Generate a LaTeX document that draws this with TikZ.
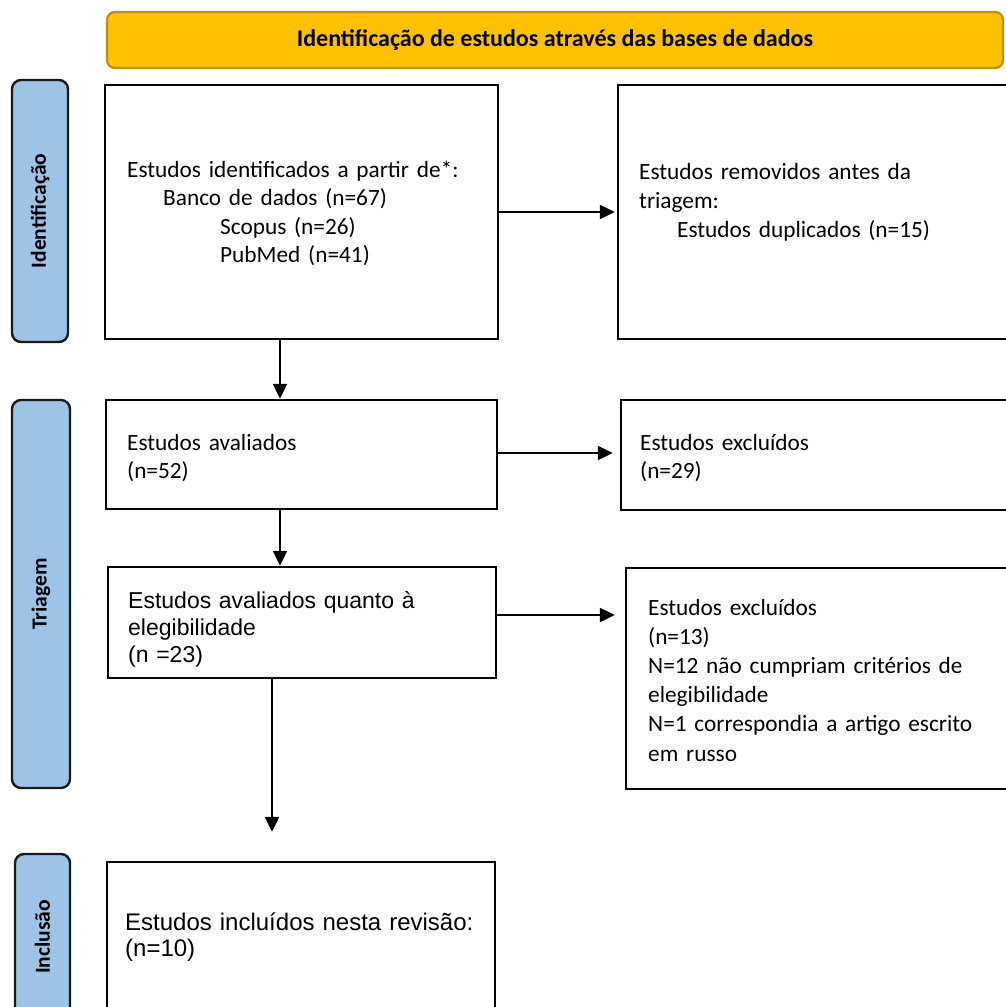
\documentclass[tikz,border=0pt]{standalone}
\usepackage{fontspec}
\setmainfont{Carlito}
\newfontfamily\arialfont{Liberation Sans}
\usetikzlibrary{arrows.meta,calc}
\definecolor{hdrfill}{HTML}{FFC000}
\definecolor{hdrline}{HTML}{BF9000}
\definecolor{sidefill}{HTML}{9DC3E6}
\definecolor{sideline}{HTML}{1A1A1A}
\tikzset{
 box/.style={draw=black, line width=2.4pt, rectangle, inner sep=0pt},
 sidebox/.style={draw=sideline, fill=sidefill, line width=2.4pt, rounded corners=9pt, rotate=90, inner sep=0pt, font=\fontsize{21.5}{25}\selectfont\bfseries},
 hdr/.style={draw=hdrline, fill=hdrfill, line width=2.2pt, rounded corners=8pt, inner sep=0pt, font=\fontsize{24}{28}\selectfont\bfseries},
 cal/.style={anchor=base west, inner sep=0pt, text width=400pt, align=left},
 ari/.style={anchor=base west, inner sep=0pt, text width=400pt, align=left},
 arr/.style={line width=2.2pt, -{Triangle[length=15pt,width=14pt]}},
}
\begin{document}
\begin{tikzpicture}[x=1pt,y=-1pt]
\useasboundingbox (0,0) rectangle (1005,1007);
% header
\node[hdr, minimum width=896, minimum height=56] (hdr) at (555,40) {Identificação de estudos através das bases de dados};
% side labels
\node[sidebox, minimum width=262, minimum height=56] (s1) at (40,211) {Identificação};
\node[sidebox, minimum width=388, minimum height=58] (s2) at (41,594) {Triagem};
\node[sidebox, minimum width=166, minimum height=55] (s3) at (42.5,937) {Inclusão};
% boxes
\node[box, minimum width=393, minimum height=254] (b1) at (301.5,212) {};
\node[box, minimum width=397, minimum height=254] (b2) at (816.5,212) {};
\node[box, minimum width=391, minimum height=109] (b3) at (301.5,454.5) {};
\node[box, minimum width=394, minimum height=110] (b4) at (818,455) {};
\node[box, minimum width=388, minimum height=111] (b5) at (302,622.5) {};
\node[box, minimum width=389, minimum height=221] (b6) at (820.5,678.5) {};
\node[box, minimum width=388, minimum height=158] (b7) at (301,941) {};
% texts
\node[cal, font=\fontsize{23.3}{28.5}\selectfont] (t1) at (127,177) {Estudos identificados a partir de*:\\\hspace*{36pt}Banco de dados (n=67)\\\hspace*{93pt}Scopus (n=26)\\\hspace*{93pt}PubMed (n=41)};
\node[cal, font=\fontsize{23.3}{29}\selectfont] (t2) at (639,179) {Estudos removidos antes da\\triagem:\\\hspace*{38pt}Estudos duplicados (n=15)};
\node[cal, font=\fontsize{23.3}{28}\selectfont] (t3) at (127,450) {Estudos avaliados\\(n=52)};
\node[cal, font=\fontsize{23.3}{28}\selectfont] (t4) at (640,450) {Estudos excluídos\\(n=29)};
\node[ari, font=\arialfont\fontsize{23}{27}\selectfont] (t5) at (128,608) {Estudos avaliados quanto à\\elegibilidade\\(n =23)};
\node[cal, font=\fontsize{23.3}{29.2}\selectfont] (t6) at (648,615) {Estudos excluídos\\(n=13)\\N=12 não cumpriam critérios de\\elegibilidade\\N=1 correspondia a artigo escrito\\em russo};
\node[ari, font=\arialfont\fontsize{24}{26}\selectfont] (t7) at (125,930) {Estudos incluídos nesta revisão:\\(n=10)};
% spines
\coordinate (spA) at (280,0);
\coordinate (spB) at (272,0);
% arrows
\draw[arr, shorten >=2pt] (b1.east) -- (b2.west);
\draw[arr] (b1.south -| spA) -- (b3.north -| spA);
\draw[arr, shorten >=7pt] ([yshift=1.5pt]b3.east) -- ([yshift=1.5pt]b3.east -| b4.west);
\draw[arr] (b3.south -| spA) -- (b5.north -| spA);
\draw[arr, shorten >=10pt] ([yshift=7.5pt]b5.east) -- ([yshift=7.5pt]b5.east -| b6.west);
\draw[arr, shorten >=29pt] (b5.south -| spB) -- (b7.north -| spB);
\end{tikzpicture}
\end{document}
